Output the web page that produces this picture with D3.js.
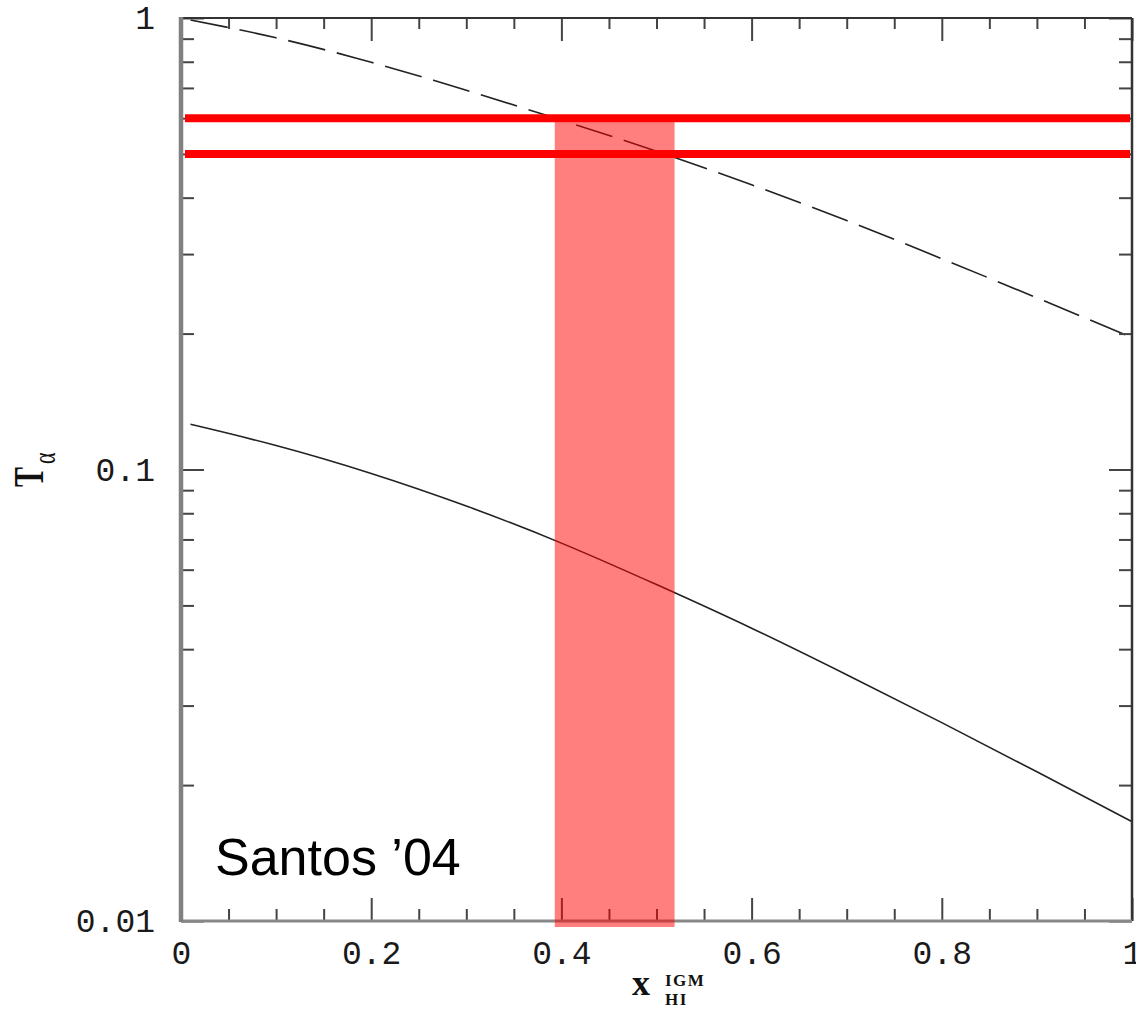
<!DOCTYPE html>
<html>
<head>
<meta charset="utf-8">
<script src="https://cdn.jsdelivr.net/npm/d3@7"></script>
<style>
  body { margin: 0; background: #fff; }
  svg { display: block; }
  .tick text { font-family: "Liberation Mono", "DejaVu Sans Mono", monospace; font-size: 33px; fill: #1a1a1a; }
  .tick line { stroke: #444; stroke-width: 2; }
</style>
</head>
<body>
<div id="chart"></div>
<script>
// x = neutral fraction of the IGM, T = Lyman-alpha transmission
const xValues = [0.01, 0.1, 0.2, 0.3, 0.4, 0.5, 0.6, 0.7, 0.8, 0.9, 1.0];
const dashedT = [0.99, 0.904, 0.798, 0.692, 0.594, 0.507, 0.427, 0.356, 0.293, 0.240, 0.196];
const solidT  = [0.1259, 0.1130, 0.0980, 0.0830, 0.0687, 0.0556, 0.0445, 0.0351, 0.0275, 0.0214, 0.0166];

// red constraint lines and the shaded band
const redLevels = [0.6, 0.5];
const bandX = [0.393, 0.519];

const xMajor = [0, 0.2, 0.4, 0.6, 0.8, 1];
const xMinor = d3.range(0.05, 1, 0.05).filter(v => Math.abs(v * 5 - Math.round(v * 5)) > 1e-6);
const yMajor = [1, 0.1, 0.01];
const yMinor = [2, 3, 4, 5, 6, 7, 8, 9].flatMap(m => [m * 0.1, m * 0.01]);

const width = 1136;
const height = 1010;
const margin = { top: 18, right: 4, bottom: 89, left: 181 };

const svg = d3.select('#chart')
  .append('svg')
  .attr('width', width)
  .attr('height', height);

const xScale = d3.scaleLinear().domain([0, 1]).range([margin.left, width - margin.right]);
const yScale = d3.scaleLog().domain([0.01, 1]).range([height - margin.bottom, margin.top]);

const x0 = xScale(0), x1 = xScale(1), yTop = yScale(1), yBot = yScale(0.01);

// curves
const line = (vals) => d3.line()
  .x((d, i) => xScale(xValues[i]))
  .y((d) => yScale(d))
  .curve(d3.curveNatural)(vals);

svg.append('path')
  .attr('d', line(dashedT))
  .attr('fill', 'none')
  .attr('stroke', '#222')
  .attr('stroke-width', 1.6)
  .attr('stroke-dasharray', '38,12');

svg.append('path')
  .attr('d', line(solidT))
  .attr('fill', 'none')
  .attr('stroke', '#222')
  .attr('stroke-width', 1.6);

// ticks: bottom & top (inward)
function xTicks(axisFn, y, vals, size, labels) {
  const g = svg.append('g')
    .attr('transform', `translate(0,${y})`)
    .call(axisFn(xScale).tickValues(vals).tickSize(size).tickPadding(20)
      .tickFormat(labels ? (d) => d3.format('~g')(d) : ''));
  g.select('.domain').remove();
}
xTicks(d3.axisBottom, yBot, xMinor, -12, false);
xTicks(d3.axisBottom, yBot, xMajor, -23, true);
xTicks(d3.axisTop, yTop, xMinor, -11, false);
xTicks(d3.axisTop, yTop, xMajor, -23, false);

function yTicks(axisFn, x, vals, size, labels) {
  const g = svg.append('g')
    .attr('transform', `translate(${x},0)`)
    .call(axisFn(yScale).tickValues(vals).tickSize(size).tickPadding(26)
      .tickFormat(labels ? (d) => String(d) : ''));
  g.select('.domain').remove();
}
yTicks(d3.axisLeft, x0, yMinor, -13, false);
yTicks(d3.axisLeft, x0, yMajor, -23, true);
yTicks(d3.axisRight, x1, yMinor, -13, false);
yTicks(d3.axisRight, x1, yMajor, -23, false);

// frame
svg.append('line').attr('x1', x0).attr('x2', x1).attr('y1', yTop).attr('y2', yTop)
  .attr('stroke', '#333').attr('stroke-width', 2);
svg.append('line').attr('x1', x1).attr('x2', x1).attr('y1', yTop).attr('y2', yBot)
  .attr('stroke', '#333').attr('stroke-width', 2.5);
svg.append('line').attr('x1', x0).attr('x2', x1).attr('y1', yBot).attr('y2', yBot)
  .attr('stroke', '#888').attr('stroke-width', 3);
svg.append('line').attr('x1', x0).attr('x2', x0).attr('y1', yTop - 1).attr('y2', yBot + 1)
  .attr('stroke', '#808080').attr('stroke-width', 4.5);

// shaded band (semi-transparent, drawn over the curve)
svg.append('rect')
  .attr('x', xScale(bandX[0]))
  .attr('width', xScale(bandX[1]) - xScale(bandX[0]))
  .attr('y', yScale(redLevels[0]))
  .attr('height', yBot + 6 - yScale(redLevels[0]))
  .attr('fill', 'rgb(255,0,0)')
  .attr('fill-opacity', 0.5);

svg.selectAll('.redline')
  .data(redLevels)
  .join('line')
  .attr('class', 'redline')
  .attr('x1', x0 + 4)
  .attr('x2', x1 - 2)
  .attr('y1', (d) => yScale(d))
  .attr('y2', (d) => yScale(d))
  .attr('stroke', '#ff0000')
  .attr('stroke-width', 8);

// annotation
svg.append('text')
  .attr('x', 215)
  .attr('y', 875)
  .attr('font-family', '"Liberation Sans", Arial, sans-serif')
  .attr('font-size', 52)
  .attr('fill', '#000')
  .text('Santos ’04');

// y axis title: T_alpha
const yl = svg.append('g')
  .attr('transform', 'translate(43,487) rotate(-90) scale(1,1.4)')
  .attr('font-family', '"Liberation Serif", "DejaVu Serif", serif')
  .attr('font-weight', 'bold')
  .attr('fill', '#111');
yl.append('text').attr('x', 0).attr('y', 0).attr('font-size', 30).text('T');
yl.append('text').attr('x', 23).attr('y', 8.6).attr('font-size', 22).attr('font-weight', 'normal').text('α');

// x axis title: x_HI^IGM
const xl = svg.append('g')
  .attr('font-family', '"Liberation Serif", "DejaVu Serif", serif')
  .attr('font-weight', 'bold')
  .attr('fill', '#111');
xl.append('text').attr('x', 632).attr('y', 995).attr('font-size', 36).text('x');
xl.append('text').attr('x', 665).attr('y', 986).attr('font-size', 17).attr('letter-spacing', 1.5).text('IGM');
xl.append('text').attr('x', 665).attr('y', 1005).attr('font-size', 17).attr('letter-spacing', 1.5).text('HI');
</script>
</body>
</html>
